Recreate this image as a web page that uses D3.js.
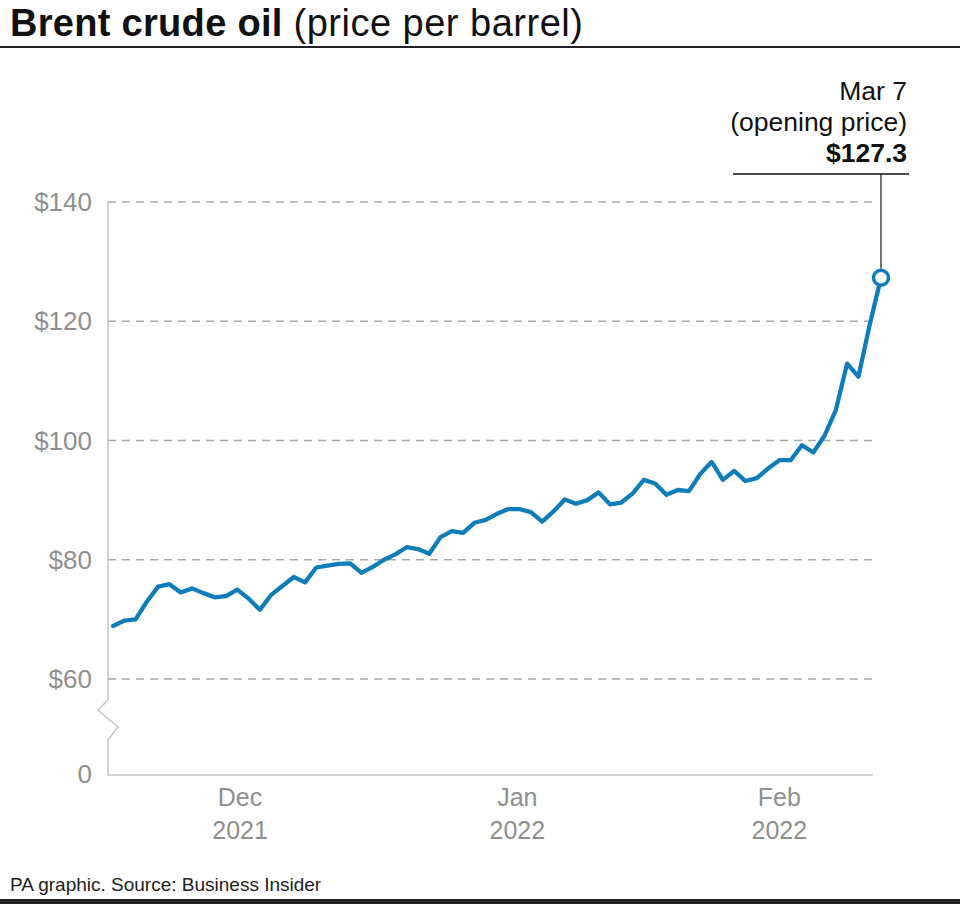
<!DOCTYPE html>
<html>
<head>
  <meta charset="utf-8">
  <title>Brent crude oil</title>
  <style>
    body { margin: 0; background: #fff; }
    svg { display: block; font-family: "Liberation Sans", Arial, sans-serif; }
  </style>
</head>
<body>
  <svg id="main" width="960" height="904"></svg>

  <script src="https://cdn.jsdelivr.net/npm/d3@7"></script>
  <script>
    // daily prices ($ per barrel), last one is the Mar 7 open
    const prices = [
      68.9, 69.8, 70.0, 73.0, 75.5, 75.9, 74.5, 75.2, 74.4, 73.7,
      73.9, 75.0, 73.5, 71.6, 74.1, 75.6, 77.1, 76.2, 78.7, 79.0,
      79.3, 79.4, 77.8, 78.8, 80.0, 80.9, 82.1, 81.8, 81.0, 83.8,
      84.8, 84.5, 86.2, 86.7, 87.7, 88.5, 88.5, 88.0, 86.4, 88.1,
      90.1, 89.4, 90.0, 91.3, 89.3, 89.6, 91.1, 93.4, 92.8, 90.9,
      91.7, 91.5, 94.4, 96.4, 93.4, 94.9, 93.2, 93.7, 95.3, 96.7,
      96.7, 99.2, 98.0, 100.8, 105.1, 112.9, 110.7, 119.4, 127.3
    ]

    const yTicks = [60, 80, 100, 120, 140]
    const monthLabels = ['Dec', 'Jan', 'Feb']
    const yearLabels = ['2021', '2022', '2022']
    const monthAt = [11.25, 35.8, 59.0]   // position in trading-day index

    const noteLines = ['Mar 7', '(opening price)', '$127.3']

    const svg = d3.select('#main')
    const width = +svg.attr('width')
    const blue = '#0f7dba'
    const grey = '#8f8f8f'
    const axisGrey = '#c4c4c4'

    const plot = { left: 108, right: 873, top: 202, bottom: 775 }

    const xScale = d3.scaleLinear()
      .domain([0, prices.length - 1])
      .range([113, 881])

    const yScale = d3.scaleLinear()
      .domain([60, 140])
      .range([679, 202])

    // title
    const title = svg.append('text')
      .attr('x', 10)
      .attr('y', 36)
      .attr('font-size', 38)
      .attr('fill', '#111')
      .attr('letter-spacing', 0.5)
    title.append('tspan').attr('font-weight', 'bold').attr('letter-spacing', 0.3).text('Brent crude oil ')
    title.append('tspan').text('(price per barrel)')

    svg.append('rect')
      .attr('x', 0).attr('y', 46)
      .attr('width', width).attr('height', 2)
      .attr('fill', '#222')

    // grid lines
    svg.append('g')
      .selectAll('line')
      .data(yTicks)
      .join('line')
      .attr('x1', plot.left)
      .attr('x2', plot.right)
      .attr('y1', d => yScale(d))
      .attr('y2', d => yScale(d))
      .attr('stroke', '#a8a8a8')
      .attr('stroke-width', 1.3)
      .attr('stroke-dasharray', '8,6')

    // y axis with break
    const breakTop = 700
    svg.append('path')
      .attr('fill', 'none')
      .attr('stroke', axisGrey)
      .attr('stroke-width', 1.5)
      .attr('d', `M${plot.left},${yScale(140)} V${breakTop}
        L${plot.left - 10},${breakTop + 10} L${plot.left + 10},${breakTop + 27}
        L${plot.left},${breakTop + 40} V${plot.bottom} H${plot.right}`)

    svg.append('g')
      .selectAll('text')
      .data(yTicks)
      .join('text')
      .attr('x', 92)
      .attr('y', d => yScale(d) + 9)
      .attr('text-anchor', 'end')
      .attr('font-size', 26)
      .attr('fill', grey)
      .text(d => '$' + d)

    svg.append('text')
      .attr('x', 92)
      .attr('y', plot.bottom + 8)
      .attr('text-anchor', 'end')
      .attr('font-size', 26)
      .attr('fill', grey)
      .text('0')

    // month labels
    const months = svg.append('g')
      .selectAll('text')
      .data(monthLabels)
      .join('text')
      .attr('text-anchor', 'middle')
      .attr('font-size', 25)
      .attr('fill', grey)
    months.append('tspan')
      .attr('x', (d, i) => xScale(monthAt[i]))
      .attr('y', 806)
      .text(d => d)
    months.append('tspan')
      .attr('x', (d, i) => xScale(monthAt[i]))
      .attr('y', 839)
      .text((d, i) => yearLabels[i])

    // price line
    const line = d3.line()
      .x((d, i) => xScale(i))
      .y(d => yScale(d))

    svg.append('path')
      .datum(prices)
      .attr('fill', 'none')
      .attr('stroke', blue)
      .attr('stroke-width', 4.3)
      .attr('stroke-linejoin', 'round')
      .attr('stroke-linecap', 'round')
      .attr('d', line)

    // annotation for the last price
    const lastI = prices.length - 1
    const lx = xScale(lastI)
    const ly = yScale(prices[lastI])

    svg.append('line')
      .attr('x1', 733).attr('x2', 909)
      .attr('y1', 174).attr('y2', 174)
      .attr('stroke', '#111').attr('stroke-width', 1.5)
    svg.append('line')
      .attr('x1', lx).attr('x2', lx)
      .attr('y1', 174).attr('y2', ly - 9)
      .attr('stroke', '#111').attr('stroke-width', 1.2)

    svg.append('circle')
      .attr('cx', lx).attr('cy', ly).attr('r', 7.5)
      .attr('fill', '#fff')
      .attr('stroke', blue)
      .attr('stroke-width', 3.5)

    svg.append('g')
      .selectAll('text')
      .data(noteLines)
      .join('text')
      .attr('x', 907)
      .attr('y', (d, i) => 100 + i * 31)
      .attr('text-anchor', 'end')
      .attr('font-size', 26.5)
      .attr('fill', '#111')
      .attr('font-weight', (d, i) => i === 2 ? 'bold' : 'normal')
      .text(d => d)

    // footer
    svg.append('text')
      .attr('x', 10)
      .attr('y', 891)
      .attr('font-size', 19)
      .attr('fill', '#222')
      .text('PA graphic. Source: Business Insider')

    svg.append('rect')
      .attr('x', 0).attr('y', 899)
      .attr('width', width).attr('height', 5)
      .attr('fill', '#222')
  </script>
</body>
</html>
